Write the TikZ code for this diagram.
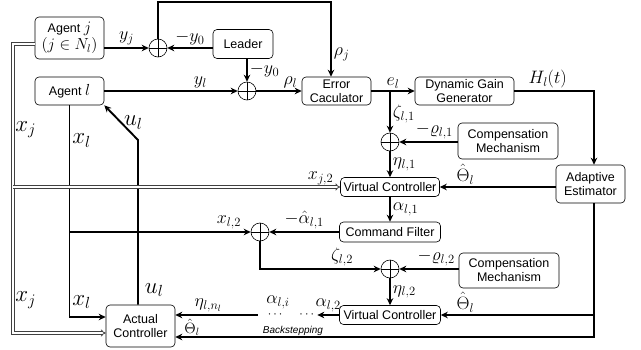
\RequirePackage{fix-cm}
\documentclass[tikz,border=0pt]{standalone}
\usepackage{amsmath,amssymb}
\usepackage[no-math]{fontspec}
\setmainfont{Liberation Sans}
\usetikzlibrary{arrows.meta}

\newcommand{\bmath}[1]{{\fontsize{16}{16}\selectfont$#1$}}

\begin{document}
\begin{tikzpicture}[x=1pt,y=-1pt,inner sep=2pt,
  font=\fontsize{18}{20}\selectfont,
  blk/.style={draw,rounded corners=4pt,line width=0.6pt,align=center,inner sep=1pt,
    font=\fontsize{12.5}{14}\selectfont},
  sumnode/.style={circle,draw,line width=0.6pt,minimum size=18pt,inner sep=0pt,
    path picture={\draw[line width=0.6pt] (path picture bounding box.north) -- (path picture bounding box.south)
      (path picture bounding box.west) -- (path picture bounding box.east);}},
  wire/.style={line width=1.9pt},
  sig/.style={wire,-{Stealth[length=7pt,width=6.5pt]}},
  vec/.style={double=white,double distance=1.6pt,line width=0.8pt,draw=black!75},
  vecarr/.style={vec,-{Implies}},
  big/.style={font=\fontsize{23}{25}\selectfont}]

\useasboundingbox (0,0) rectangle (641,349);

\draw
(69.5,38) node[blk,minimum width=69pt,minimum height=42pt](agentj){Agent \bmath{j}\\[1pt]\bmath{(j\in N_l)}}
(243,44) node[blk,minimum width=60pt,minimum height=29pt](leader){Leader}
(158,48) node[sumnode](s1){}
(69.5,91) node[blk,minimum width=69pt,minimum height=28pt](agentl){Agent \bmath{l}}
(247,91) node[sumnode](s2){}
(336.5,91) node[blk,minimum width=69pt,minimum height=28pt](ec){Error\\Caculator}
(464.5,91) node[blk,minimum width=99pt,minimum height=28pt](dgg){Dynamic Gain\\Generator}
(390,142) node[sumnode](s3){}
(508,141) node[blk,minimum width=100pt,minimum height=36pt](comp1){Compensation\\Mechanism}
(590.5,184) node[blk,minimum width=69pt,minimum height=38pt](ae){Adaptive\\Estimator}
(390,187) node[blk,minimum width=99pt,minimum height=19pt](vc1){Virtual Controller}
(390,232) node[blk,minimum width=101pt,minimum height=20pt](cf){Command Filter}
(260,232) node[sumnode](s4){}
(390,269) node[sumnode](s5){}
(509,270.5) node[blk,minimum width=100pt,minimum height=35pt](comp2){Compensation\\Mechanism}
(390,315) node[blk,minimum width=101pt,minimum height=19pt](vc2){Virtual Controller}
(292,315) node[inner sep=1pt,font=\fontsize{12.5}{14}\selectfont](dots){$\cdots\hspace{15pt}\cdots$}
(140.5,326) node[blk,minimum width=69pt,minimum height=42pt](ac){Actual\\Controller};

\coordinate (topr) at (331,2);
\coordinate (eb) at (390,91);
\coordinate (hc) at (594,91);
\coordinate (ub) at (138,140);
\coordinate (jl) at (13,187);

\draw[sig] (agentj.east |- s1) -- node[above]{$y_j$} (s1);
\draw[sig] (leader.west |- s1) -- node[above]{$-y_0$} (s1);
\draw[sig] (s1.north) |- (topr) -- node[pos=0.7,right]{$\rho_j$} (topr |- ec.north);
\draw[sig] (leader.south -| s2) -- node[right]{$-y_0$} (s2);
\draw[sig] (agentl.east) -- node[above,pos=0.72]{$y_l$} (s2);
\draw[sig] (s2) -- node[above,pos=0.75]{$\rho_l$} (ec);
\draw[sig] (ec) -- node[above]{$e_l$} (dgg);
\draw[sig] (eb) -- node[right,pos=0.55]{$\zeta_{l,1}$} (s3);
\draw[sig] (dgg) -- node[above,pos=0.42]{$H_l(t)$} (hc) -- (hc |- ae.north);
\draw[sig] (comp1.west |- s3) -- node[above,pos=0.4]{$-\varrho_{l,1}$} (s3);
\draw[sig] (s3) -- node[right]{$\eta_{l,1}$} (vc1);
\draw[sig] (ae.west |- vc1) -- node[above,pos=0.78]{$\hat{\Theta}_l$} (vc1);
\draw[sig] (vc1) -- node[right]{$\alpha_{l,1}$} (cf);
\draw[sig] (cf) -- node[above]{$-\hat{\alpha}_{l,1}$} (s4);
\draw[sig] (agentl.south |- s4) -- node[above,pos=0.88]{$x_{l,2}$} (s4);
\draw[sig] (s4) |- node[above,pos=0.84]{$\zeta_{l,2}$} (s5);
\draw[sig] (comp2.west |- s5) -- node[above,pos=0.38]{$-\varrho_{l,2}$} (s5);
\draw[sig] (s5) -- node[right]{$\eta_{l,2}$} (vc2);
\draw[sig] (hc |- vc2) -- node[above,pos=0.84]{$\hat{\Theta}_l$} (vc2);
\draw[sig] (hc |- ae.south) |- node[above,pos=0.98,inner sep=0.5pt,font=\fontsize{15}{16}\selectfont]{$\hat{\Theta}_l$} ([yshift=-11pt]ac.east);
\draw[sig] (vc2) -- node[above]{$\alpha_{l,2}$} (dots);
\draw[sig] ([xshift=-9pt]dots.west) -- node[above,pos=0.6]{$\eta_{l,n_l}$} ([yshift=11pt]ac.east);
\draw[sig] (agentl.south) |- node[pos=0.083,right,big]{$x_l$} node[pos=0.465,right,big]{$x_l$} ([yshift=9pt]ac.west);
\draw[sig] (ub |- ac.north) -- node[pos=0.09,right,big,xshift=4pt]{$u_l$} (ub) -- node[right,big]{$u_l$} (agentl.south east);

\draw[vecarr] ([yshift=-6pt]agentj.west) -| node[pos=0.8,right,big]{$x_j$} (jl) |- node[pos=0.387,right,big]{$x_j$} ([yshift=-7pt]ac.west);
\draw[vecarr] (jl) -- node[above,pos=0.94]{$x_{j,2}$} (vc1);

\node at (278,302) {$\alpha_{l,i}$};
\node[font=\fontsize{10}{12}\selectfont\itshape] at (293,331) {Backstepping};

\end{tikzpicture}
\end{document}
